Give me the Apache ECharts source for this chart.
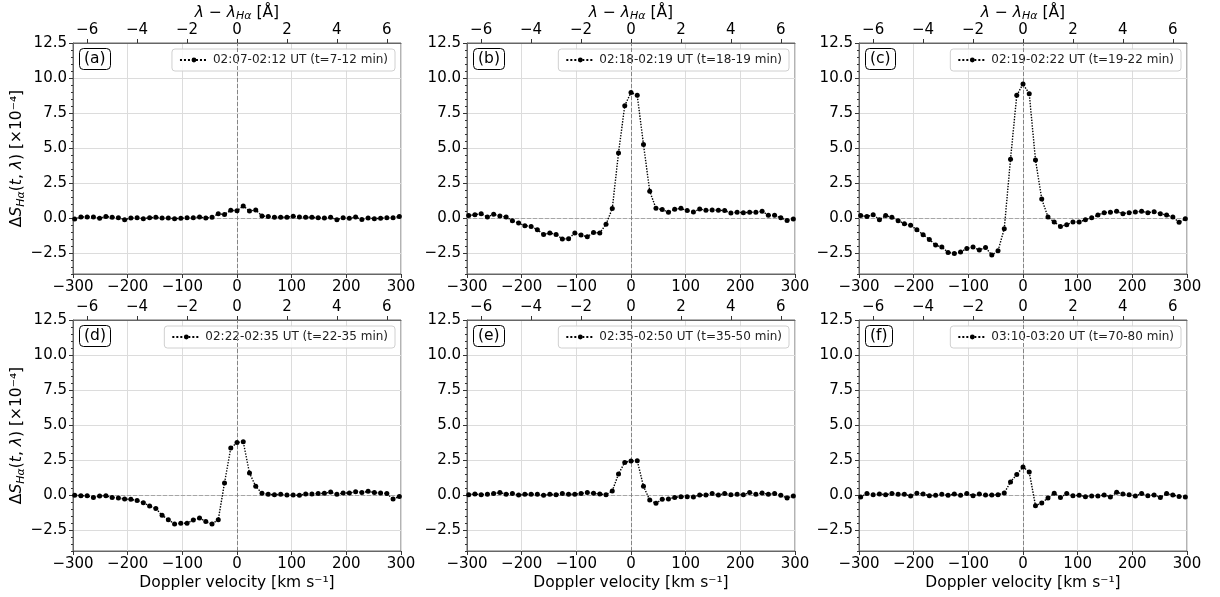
<!DOCTYPE html>
<html>
<head>
<meta charset="utf-8">
<script src="https://cdn.jsdelivr.net/npm/echarts@6/dist/echarts.min.js"></script>
<style>
  html, body { margin: 0; padding: 0; background: #fff; }
  #main { width: 1220px; height: 597px; }
</style>
</head>
<body>
<div id="main"></div>
<script>
// wavelength offsets of the H-alpha samples [Angstrom]
const lambdaOffsets = [-6.5, -6.25, -6, -5.75, -5.5, -5.25, -5, -4.75, -4.5, -4.25,
  -4, -3.75, -3.5, -3.25, -3, -2.75, -2.5, -2.25, -2, -1.75,
  -1.5, -1.25, -1, -0.75, -0.5, -0.25, 0, 0.25, 0.5, 0.75,
  1, 1.25, 1.5, 1.75, 2, 2.25, 2.5, 2.75, 3, 3.25,
  3.5, 3.75, 4, 4.25, 4.5, 4.75, 5, 5.25, 5.5, 5.75,
  6, 6.25, 6.5];

const C_KMS = 299792.458;
const LAMBDA_HA = 6562.8;

const panelLabels = ['(a)', '(b)', '(c)', '(d)', '(e)', '(f)'];
const intervals = [
  '02:07-02:12 UT (t=7-12 min)',
  '02:18-02:19 UT (t=18-19 min)',
  '02:19-02:22 UT (t=19-22 min)',
  '02:22-02:35 UT (t=22-35 min)',
  '02:35-02:50 UT (t=35-50 min)',
  '03:10-03:20 UT (t=70-80 min)'
];

// Delta S_Ha(t, lambda) in units of 1e-4
const dsA = [-0.07, 0.07, 0.07, 0.07, -0.02, 0.1, 0.05, 0.02, -0.12, 0,
  0.02, -0.05, 0.02, 0.05, 0, 0, -0.05, -0.02, 0.02, 0.02,
  0.07, 0, 0.05, 0.3, 0.25, 0.55, 0.52, 0.86, 0.5, 0.57,
  0.15, 0.1, 0.05, 0.05, 0.05, 0.12, 0.07, 0.05, 0.05, 0.02,
  0, 0.05, -0.12, 0.02, -0.02, 0.07, -0.1, 0, -0.05, -0.02,
  0.02, 0.02, 0.1];
const dsB = [0.17, 0.24, 0.31, 0.07, 0.26, 0.14, 0.07, -0.19, -0.36, -0.55,
  -0.6, -0.84, -1.17, -1.07, -1.17, -1.5, -1.48, -1.07, -1.22, -1.34,
  -1.03, -1.07, -0.45, 0.67, 4.65, 8.02, 8.97, 8.76, 5.25, 1.91,
  0.69, 0.6, 0.41, 0.62, 0.69, 0.53, 0.43, 0.64, 0.55, 0.57,
  0.55, 0.53, 0.36, 0.41, 0.38, 0.41, 0.41, 0.48, 0.19, 0.19,
  0.02, -0.17, -0.07];
const dsC = [0.17, 0.1, 0.24, -0.12, 0.17, 0.05, -0.19, -0.41, -0.52, -0.84,
  -1.19, -1.53, -1.93, -2.08, -2.46, -2.53, -2.43, -2.17, -2.08, -2.29,
  -2.1, -2.65, -2.34, -0.76, 4.2, 8.76, 9.57, 8.88, 4.15, 1.36,
  0.07, -0.29, -0.6, -0.48, -0.29, -0.29, -0.12, 0.02, 0.21, 0.38,
  0.41, 0.48, 0.31, 0.38, 0.43, 0.48, 0.38, 0.45, 0.31, 0.21,
  0.07, -0.31, -0.05];
const dsD = [-0.02, -0.05, -0.05, -0.17, -0.07, -0.05, -0.17, -0.21, -0.29, -0.31,
  -0.4, -0.55, -0.78, -0.97, -1.45, -1.76, -2.07, -2.02, -2.02, -1.78,
  -1.64, -1.9, -2.07, -1.76, 0.86, 3.35, 3.75, 3.8, 1.57, 0.62,
  0.12, 0.05, 0.02, 0.05, 0, 0, -0.02, 0.07, 0.07, 0.1,
  0.12, 0.21, 0.05, 0.14, 0.14, 0.24, 0.17, 0.26, 0.17, 0.14,
  0.1, -0.29, -0.1];
const dsE = [0.02, 0.07, 0.02, 0.05, 0.1, 0.17, 0.05, 0.1, 0, 0.05,
  0.05, 0.05, -0.02, 0.05, 0.02, 0.1, 0.05, 0.05, 0.1, 0.17,
  0.12, 0.07, 0.02, 0.29, 1.5, 2.33, 2.42, 2.45, 0.62, -0.36,
  -0.59, -0.31, -0.29, -0.17, -0.12, -0.12, -0.14, 0, 0, 0.1,
  0, 0.1, 0.02, 0.05, 0.02, 0.17, 0.05, 0.14, 0.05, 0.1,
  -0.02, -0.21, -0.07];
const dsF = [-0.14, 0.1, 0.02, 0.07, 0.02, 0.1, 0.05, 0.05, -0.07, 0.12,
  0.07, -0.05, -0.02, 0.05, -0.02, 0.07, -0.02, 0.1, -0.05, 0.07,
  0, 0, 0.02, 0.14, 0.93, 1.47, 2.0, 1.64, -0.76, -0.57,
  -0.21, 0.12, -0.17, 0.1, -0.05, -0.02, -0.12, -0.07, -0.07, 0,
  -0.14, 0.19, 0.07, 0.02, -0.07, 0.1, -0.05, 0, -0.17, 0.1,
  0, -0.1, -0.14];
const panels = [dsA, dsB, dsC, dsD, dsE, dsF];

// axes
const velocityRange = [-300, 300];
const lambdaTicks = [-6, -4, -2, 0, 2, 4, 6];
const yTicks = [-2.5, 0, 2.5, 5, 7.5, 10, 12.5];
const yRange = [-4, 12.5];

const FONT = 'DejaVu Sans';
const colLeft = [73, 467, 859];
const rowTop = [43, 320];
const W = 328, H = 231;
const lamMax = velocityRange[1] / (C_KMS / LAMBDA_HA);

const fmtMinus = (s) => s.replace('-', '\u2212');
const subRich = {
  i: { fontStyle: 'italic', fontSize: 15.5, fontFamily: FONT, color: '#000' },
  n: { fontSize: 15.5, fontFamily: FONT, color: '#000' },
  s: { fontStyle: 'italic', fontSize: 11, fontFamily: FONT, color: '#000', padding: [8, 0, 0, 0] }
};

const chart = echarts.init(document.getElementById('main'), null, { renderer: 'canvas' });

const grid = [], xAxis = [], yAxis = [], series = [], legend = [], title = [];

panels.forEach((ds, p) => {
  const col = p % 3, row = Math.floor(p / 3);
  const left = colLeft[col], top = rowTop[row];
  grid.push({ left: left, top: top, width: W, height: H, show: true,
    borderColor: '#666', borderWidth: 1, backgroundColor: 'transparent' });

  // bottom: Doppler velocity
  xAxis.push({
    type: 'value', gridIndex: p, position: 'bottom',
    min: velocityRange[0], max: velocityRange[1], interval: 100,
    axisLine: { show: true, onZero: false, lineStyle: { color: '#666' } },
    axisTick: { show: true, inside: false, length: 4, lineStyle: { color: '#333' } },
    axisLabel: { fontSize: 15, fontFamily: FONT, color: '#000', margin: 6,
      formatter: (v) => fmtMinus(String(v)) },
    splitLine: { show: true, lineStyle: { color: '#dcdcdc', width: 1 } },
    name: row === 1 ? 'Doppler velocity [km s\u207B\u00B9]' : '',
    nameLocation: 'middle', nameGap: 24,
    nameTextStyle: { fontSize: 15.5, fontFamily: FONT, color: '#000' }
  });
  // top: wavelength offset
  xAxis.push({
    type: 'value', gridIndex: p, position: 'top',
    min: -lamMax, max: lamMax,
    axisLine: { show: true, onZero: false, lineStyle: { color: '#666' } },
    axisTick: { show: true, inside: false, length: 4, customValues: lambdaTicks, lineStyle: { color: '#333' } },
    axisLabel: { fontSize: 15, fontFamily: FONT, color: '#000', margin: 5, customValues: lambdaTicks,
      formatter: (v) => fmtMinus(String(v)) },
    splitLine: { show: false },
    name: row === 0 ? '{i|\u03BB} \u2212 {i|\u03BB}{s|H\u03B1} [\u00C5]' : '',
    nameLocation: 'middle', nameGap: 20,
    nameTextStyle: { fontSize: 15.5, fontFamily: FONT, color: '#000', rich: subRich }
  });

  yAxis.push({
    type: 'value', gridIndex: p, position: 'left',
    min: yRange[0], max: yRange[1],
    axisLine: { show: true, onZero: false, lineStyle: { color: '#666' } },
    axisTick: { show: true, inside: false, length: 4, customValues: yTicks, lineStyle: { color: '#333' } },
    axisLabel: { fontSize: 15, fontFamily: FONT, color: '#000', margin: 6, customValues: yTicks,
      formatter: (v) => fmtMinus(v.toFixed(1)) },
    splitLine: { show: true, lineStyle: { color: '#dcdcdc', width: 1 } },
    name: col === 0 ? '{n|\u0394}{i|S}{s|H\u03B1}{n|(}{i|t}{n|, }{i|\u03BB}{n|) [\u00D710\u207B\u2074]}' : '',
    nameLocation: 'middle', nameGap: 45, nameRotate: 90,
    nameTextStyle: { fontSize: 15.5, fontFamily: FONT, color: '#000', rich: subRich }
  });
  // minor ticks on the y axis
  yAxis.push({
    type: 'value', gridIndex: p, position: 'left', offset: 0,
    min: yRange[0], max: yRange[1], interval: 0.5,
    axisLine: { show: false, onZero: false },
    axisTick: { show: true, inside: false, length: 2, lineStyle: { color: '#333' } },
    axisLabel: { show: false },
    splitLine: { show: false }
  });

  series.push({
    name: intervals[p], type: 'line',
    xAxisIndex: 2 * p, yAxisIndex: 2 * p,
    data: lambdaOffsets.map((l, i) => [l * C_KMS / LAMBDA_HA, ds[i]]),
    symbol: 'circle', symbolSize: 5, showSymbol: true,
    lineStyle: { color: '#000', width: 1.4, type: 'dotted' },
    itemStyle: { color: '#000' },
    animation: false, z: 5,
    markLine: {
      silent: true, symbol: 'none', animation: false,
      label: { show: false },
      data: [
        { yAxis: 0, lineStyle: { color: '#a6a6a6', type: 'dashed', width: 1 } },
        { xAxis: 0, lineStyle: { color: '#858585', type: 'dashed', width: 1 } }
      ]
    }
  });

  legend.push({
    data: [intervals[p]],
    right: 1220 - (left + W) + 6, top: top + 6,
    orient: 'horizontal',
    itemWidth: 28, itemHeight: 6,
    padding: [5, 7, 5, 7],
    borderColor: '#d0d0d0', borderWidth: 1, borderRadius: 3,
    backgroundColor: 'rgba(255,255,255,0.85)',
    textStyle: { fontSize: 12, fontFamily: FONT, color: '#222' },
    selectedMode: false
  });

  title.push({
    text: panelLabels[p],
    left: left + 6, top: top + 5,
    padding: [3, 5, 3, 5],
    borderColor: '#000', borderWidth: 1, borderRadius: 4,
    backgroundColor: '#fff',
    textStyle: { fontSize: 15.5, fontWeight: 'normal', fontFamily: FONT, color: '#000' }
  });
});

chart.setOption({
  backgroundColor: '#fff',
  animation: false,
  title: title,
  legend: legend,
  grid: grid,
  xAxis: xAxis,
  yAxis: yAxis,
  series: series
});
</script>
</body>
</html>
